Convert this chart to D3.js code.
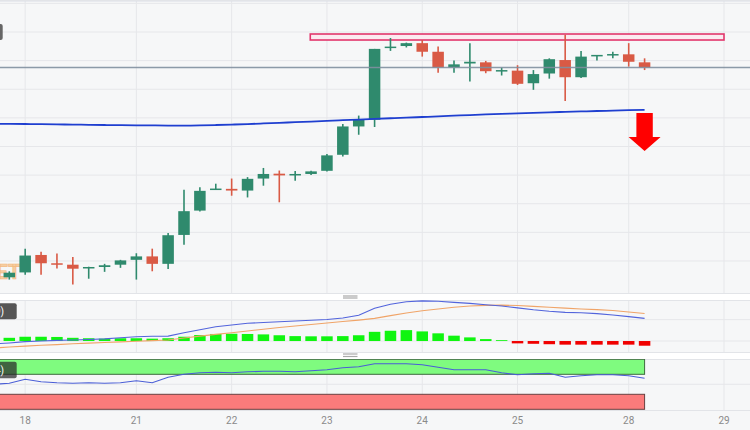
<!DOCTYPE html>
<html><head><meta charset="utf-8">
<script src="https://cdn.jsdelivr.net/npm/d3@7"></script>
<style>html,body{margin:0;padding:0;background:#fff;overflow:hidden}</style>
</head><body><svg id="c" width="750" height="430"></svg>
<script>
// ---- data (candle index 0..40, 4h candles) ----
const opens  = [64.3,66.0,72.1,69.2,68.7,67.4,67.9,68.7,70.4,71.6,69.0,79.1,87.6,94.9,95.2,94.6,98.8,100.5,100.0,100.4,101.5,107.1,117.0,119.3,144.4,145.1,146.1,143.1,137.6,139.0,139.4,136.4,136.5,132.1,135.5,140.2,134.2,141.6,142.0,142.2,139.4];
const highs  = [66.4,74.3,73.2,72.6,71.4,68.0,69.0,70.4,72.7,74.3,79.8,94.9,95.8,97.0,98.8,99.3,102.5,101.6,101.4,101.5,107.4,117.9,120.8,144.1,147.9,146.3,147.2,144.9,140.0,146.1,139.9,137.6,138.4,136.7,140.8,149.0,143.4,142.0,143.1,146.1,140.8];
const lows   = [63.5,65.2,65.2,67.4,61.8,63.8,66.2,67.6,63.5,66.4,67.2,75.7,87.3,94.8,92.8,92.2,96.3,90.5,98.0,100.0,101.3,106.5,114.1,116.8,143.4,144.6,141.4,135.8,135.8,132.7,135.6,134.8,131.5,129.8,133.7,125.9,133.9,140.0,140.8,137.9,136.7];
const closes = [65.9,71.9,69.2,68.7,67.3,67.9,68.5,70.2,71.6,69.0,79.0,87.4,94.5,95.3,94.6,98.7,100.4,99.9,100.4,101.3,106.9,117.0,119.3,144.1,144.9,146.1,143.1,137.6,138.7,139.6,136.3,136.7,131.9,135.3,140.5,134.2,141.4,142.0,142.3,139.6,137.6];
// moving average, index -1..40
const maValues = [117.95,117.9,117.85,117.8,117.72,117.65,117.57,117.5,117.45,117.4,117.35,117.32,117.32,117.38,117.5,117.65,117.82,118.05,118.27,118.5,118.72,118.95,119.18,119.42,119.65,119.87,120.08,120.3,120.52,120.75,120.98,121.2,121.4,121.58,121.77,121.95,122.1,122.25,122.4,122.53,122.67,122.8];
// MACD, index -1..40
const macdValues   = [-0.14,-0.09,-0.03,0.0,0.03,0.05,0.07,0.1,0.15,0.20,0.22,0.23,0.39,0.53,0.67,0.75,0.83,0.87,0.90,0.94,0.97,1.01,1.08,1.21,1.53,1.72,1.84,1.88,1.86,1.81,1.76,1.70,1.64,1.55,1.46,1.39,1.34,1.32,1.28,1.22,1.14,1.06];
const signalValues = [-0.33,-0.28,-0.24,-0.2,-0.17,-0.13,-0.1,-0.07,-0.04,-0.01,0.02,0.05,0.14,0.23,0.31,0.39,0.47,0.55,0.63,0.70,0.77,0.84,0.91,0.98,1.06,1.19,1.31,1.42,1.50,1.58,1.64,1.67,1.68,1.66,1.62,1.58,1.54,1.50,1.47,1.43,1.36,1.29];
// histogram, index 0..40
const histValues = [0.15,0.20,0.20,0.19,0.15,0.13,0.11,0.13,0.13,0.11,0.13,0.20,0.28,0.33,0.34,0.33,0.31,0.27,0.23,0.22,0.22,0.23,0.27,0.43,0.48,0.51,0.45,0.36,0.25,0.17,0.09,0.04,-0.11,-0.13,-0.15,-0.17,-0.17,-0.17,-0.17,-0.17,-0.22];
// RSI, index -1..40
const rsiValues = [50,52,60,55,53,52,53,52,53,57,53,64,70,73,74,73,75,76,76,75,77,79,83,85,91,91,91,89,84,79,79,79,73,69,71,72,64,67,69,69,67,62];
const rsiLevels = [30,70];
const tickIndex  = [1,8,14,20,26,32,39,45];
const tickLabels = ["18","21","22","23","24","25","28","29"];
const rangeZone = [147.2,149.3];
const rangeSpan = [18.95,45];
const arrowIndex = 40, arrowPrice = [121.7,108.4];

// ---- layout ----
const W = 750;
const svg = d3.select("#c");
const x = d3.scaleLinear().domain([0,45]).range([9.3,724]);
const yMain = d3.scaleLinear().domain([60,150]).range([289.6,32]);
const yMacd = d3.scaleLinear().domain([-0.5,1.92]).range([351.7,300]);
const yRsi  = d3.scaleLinear().domain([0,100]).range([409.3,359.3]);
const panels = [[0,293],[300,352],[359,410]];
const bg = "#f6f7f8", grid = "#e6e7ea";

const defs = svg.append("defs");
panels.forEach((p,i)=>{
  defs.append("clipPath").attr("id","clip"+i).append("rect").attr("x",0).attr("y",p[0]).attr("width",W).attr("height",p[1]-p[0]);
  svg.append("rect").attr("x",0).attr("y",p[0]).attr("width",W).attr("height",p[1]-p[0]).attr("fill",bg);
});
svg.append("rect").attr("x",0).attr("y",410).attr("width",W).attr("height",20).attr("fill",bg);

// vertical grid
panels.forEach(p=>{
  svg.append("g").selectAll("line").data(tickIndex).join("line")
    .attr("x1",d=>x(d)).attr("x2",d=>x(d)).attr("y1",p[0]).attr("y2",p[1])
    .attr("stroke",grid).attr("stroke-width",1);
});
// horizontal grid main
svg.append("g").selectAll("line").data(d3.range(70,161,10)).join("line")
  .attr("x1",0).attr("x2",W).attr("y1",d=>yMain(d)).attr("y2",d=>yMain(d))
  .attr("stroke",grid);
svg.append("line").attr("x1",0).attr("x2",W).attr("y1",1).attr("y2",1).attr("stroke","#d9dde5");
panels.forEach(p=>{
  svg.append("line").attr("x1",0).attr("x2",W).attr("y1",p[1]+0.5).attr("y2",p[1]+0.5).attr("stroke","#e2e4e8");
  svg.append("line").attr("x1",0).attr("x2",W).attr("y1",p[0]+0.5).attr("y2",p[0]+0.5).attr("stroke","#e2e4e8");
});
svg.append("g").selectAll("line").data([1,0]).join("line")
  .attr("x1",0).attr("x2",W).attr("y1",d=>yMacd(d)).attr("y2",d=>yMacd(d)).attr("stroke",grid);
svg.append("line").attr("x1",0).attr("x2",W).attr("y1",yRsi(50)).attr("y2",yRsi(50)).attr("stroke",grid);

// handles
[[296,298],[354,356.5]].forEach(h=>{
  h.forEach(yy=>svg.append("line").attr("x1",343).attr("x2",357.5).attr("y1",yy).attr("y2",yy).attr("stroke","#a8a8a8").attr("stroke-width",1.2));
});

// ---- main panel ----
const gMain = svg.append("g").attr("clip-path","url(#clip0)");
gMain.append("text").attr("x",21).attr("y",278.5).attr("text-anchor","end")
  .attr("font-family","Roboto, sans-serif").attr("font-weight","bold").attr("font-size",21)
  .attr("fill","#f6c692").attr("stroke","#f3b06a").attr("stroke-width",0.6).attr("opacity",0.85).text("FXSTREET");

gMain.append("rect")
  .attr("x",x(rangeSpan[0])).attr("y",yMain(rangeZone[1]))
  .attr("width",x(rangeSpan[1])-x(rangeSpan[0])).attr("height",yMain(rangeZone[0])-yMain(rangeZone[1]))
  .attr("fill","#fbeaf0").attr("stroke","#e2366c").attr("stroke-width",1.6);

const idx = d3.range(opens.length);
const up = "#2f8a6d", dn = "#d95a45";
const bw = 11.5;
const cg = gMain.append("g");
cg.selectAll("line").data(idx).join("line")
  .attr("x1",i=>x(i)).attr("x2",i=>x(i))
  .attr("y1",i=>yMain(highs[i])).attr("y2",i=>yMain(lows[i]))
  .attr("stroke",i=>closes[i]>=opens[i]?up:dn).attr("stroke-width",1.6);
cg.selectAll("rect").data(idx).join("rect")
  .attr("x",i=>x(i)-bw/2).attr("width",bw)
  .attr("y",i=>yMain(Math.max(opens[i],closes[i])))
  .attr("height",i=>Math.max(1.5,Math.abs(yMain(opens[i])-yMain(closes[i]))))
  .attr("fill",i=>closes[i]>=opens[i]?up:dn);

const lastClose = closes[closes.length-1];
gMain.append("line").attr("x1",0).attr("x2",W).attr("y1",yMain(lastClose)).attr("y2",yMain(lastClose))
  .attr("stroke","#8190a0").attr("stroke-width",1.5).attr("opacity",0.9);

const lineIdx = d3.range(-1,41);
gMain.append("path").datum(lineIdx)
  .attr("d",d3.line().x(i=>x(i)).y(i=>yMain(maValues[i+1])).curve(d3.curveMonotoneX))
  .attr("fill","none").attr("stroke","#1f3fd0").attr("stroke-width",1.8);

const ax = x(arrowIndex), aTop = yMain(arrowPrice[0]), aTip = yMain(arrowPrice[1]);
const headY = aTip - 14;
gMain.append("path")
  .attr("d",`M${ax-8.2},${aTop}L${ax+8.2},${aTop}L${ax+8.2},${headY}L${ax+16},${headY}L${ax},${aTip}L${ax-16},${headY}L${ax-8.2},${headY}Z`)
  .attr("fill","#ff0000");

svg.append("rect").attr("x",-3).attr("y",24).attr("width",5.7).attr("height",16).attr("rx",2).attr("fill","#666");

// ---- MACD panel ----
const gM = svg.append("g").attr("clip-path","url(#clip1)");
gM.selectAll("rect").data(idx).join("rect")
  .attr("x",i=>x(i)-bw/2).attr("width",bw)
  .attr("y",i=>yMacd(Math.max(0,histValues[i])))
  .attr("height",i=>Math.abs(yMacd(histValues[i])-yMacd(0)))
  .attr("fill",i=>histValues[i]>=0?"#10f510":"#f00000");
gM.append("path").datum(lineIdx)
  .attr("d",d3.line().x(i=>x(i)).y(i=>yMacd(signalValues[i+1])))
  .attr("fill","none").attr("stroke","#f0a468").attr("stroke-width",1.1);
gM.append("path").datum(lineIdx)
  .attr("d",d3.line().x(i=>x(i)).y(i=>yMacd(macdValues[i+1])))
  .attr("fill","none").attr("stroke","#5264dc").attr("stroke-width",1.1);
svg.append("rect").attr("x",-4).attr("y",303.3).attr("width",20.7).attr("height",16).attr("rx",2).attr("fill","#555");
svg.append("text").attr("x",4).attr("y",315).attr("text-anchor","end").attr("fill","#fff")
  .attr("font-family","Roboto, sans-serif").attr("font-size",10).text("MACD (12, 26, 9)");

// ---- RSI panel ----
const gR = svg.append("g").attr("clip-path","url(#clip2)");
const xr0 = x(-2), xr1 = x(lineIdx[lineIdx.length-1]);
gR.append("rect").attr("x",xr0).attr("width",xr1-xr0).attr("y",yRsi(100)).attr("height",yRsi(rsiLevels[1])-yRsi(100))
  .attr("fill","#7ffb7f").attr("stroke","#3f6a3f").attr("stroke-width",1);
gR.append("rect").attr("x",xr0).attr("width",xr1-xr0).attr("y",yRsi(rsiLevels[0])).attr("height",yRsi(0)-yRsi(rsiLevels[0]))
  .attr("fill","#fb7b7b").attr("stroke","#6a4040").attr("stroke-width",1);
gR.append("path").datum(lineIdx)
  .attr("d",d3.line().x(i=>x(i)).y(i=>yRsi(rsiValues[i+1])))
  .attr("fill","none").attr("stroke","#4a5ed6").attr("stroke-width",1.1);
svg.append("rect").attr("x",-4).attr("y",361.7).attr("width",20.7).attr("height",16.6).attr("rx",2).attr("fill","rgba(40,40,40,0.72)");
svg.append("text").attr("x",4).attr("y",373.5).attr("text-anchor","end").attr("fill","#fff")
  .attr("font-family","Roboto, sans-serif").attr("font-size",10).text("RSI (14)");

// ---- x axis labels ----
svg.append("g").selectAll("text").data(tickIndex).join("text")
  .attr("x",d=>x(d)).attr("y",423.5).attr("text-anchor","middle")
  .attr("font-family","Roboto, sans-serif").attr("font-size",10).attr("fill","#8a8a8a")
  .text((d,i)=>tickLabels[i]);
</script></body></html>
